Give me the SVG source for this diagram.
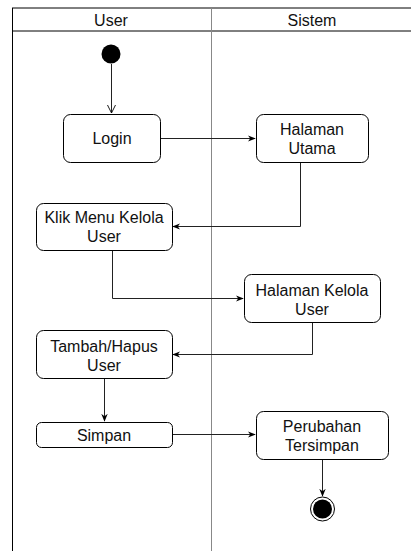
<svg xmlns="http://www.w3.org/2000/svg" width="411" height="551" viewBox="0 0 411 551">
  <style>
    .lane { fill: none; stroke: #000; stroke-width: 1; }
    .divider { stroke: #888; stroke-width: 1; }
    .act { fill: #fff; stroke: #000; stroke-width: 1; }
    .lbl { font-family: "Liberation Sans", Arial, sans-serif; font-size: 16px; fill: #111; text-anchor: middle; }
    .edge { fill: none; stroke: #222; stroke-width: 1; }
  </style>
  <defs>
    <marker id="filled" viewBox="0 0 10 10" refX="9" refY="5" markerWidth="8" markerHeight="8" markerUnits="userSpaceOnUse" orient="auto">
      <path d="M0,1 L10,5 L0,9 L3,5 Z" fill="#000"/>
    </marker>
    <marker id="open" viewBox="0 0 10 10" refX="9" refY="5" markerWidth="9" markerHeight="9" markerUnits="userSpaceOnUse" orient="auto">
      <path d="M0,0.5 L9,5 L0,9.5" fill="none" stroke="#000" stroke-width="1"/>
    </marker>
  </defs>
  <rect width="411" height="551" fill="#fff"/>

  <!-- swimlanes -->
  <g id="lanes">
    <line class="lane" x1="12" y1="8" x2="411" y2="8"/>
    <line class="lane" x1="12" y1="31" x2="411" y2="31" stroke="#666"/>
    <line class="lane" x1="12.5" y1="8" x2="12.5" y2="551"/>
    <line class="divider" x1="211.5" y1="8" x2="211.5" y2="551"/>
    <text class="lbl" x="111" y="26">User</text>
    <text class="lbl" x="312" y="26">Sistem</text>
  </g>

  <!-- connectors -->
  <g id="connectors">
    <path class="edge" d="M111.5,64 V113" marker-end="url(#open)"/>
    <path class="edge" d="M160,138.5 H255" marker-end="url(#filled)"/>
    <path class="edge" d="M300.5,162 V226.5 H173" marker-end="url(#filled)"/>
    <path class="edge" d="M112.5,250 V298.5 H243" marker-end="url(#filled)"/>
    <path class="edge" d="M312.5,322 V354.5 H173" marker-end="url(#filled)"/>
    <path class="edge" d="M104.5,378 V421" marker-end="url(#filled)"/>
    <path class="edge" d="M172,434.5 H255" marker-end="url(#filled)"/>
    <path class="edge" d="M322.5,459 V496" marker-end="url(#filled)"/>
  </g>

  <g id="start">
    <circle cx="111" cy="54" r="9.5" fill="#000"/>
  </g>

  <g id="login">
    <rect class="act" x="63.5" y="114.5" width="97" height="48" rx="7"/>
    <text class="lbl" x="112" y="144">Login</text>
  </g>

  <g id="halaman-utama">
    <rect class="act" x="256.5" y="114.5" width="112" height="48" rx="7"/>
    <text class="lbl" x="312" y="135">Halaman</text>
    <text class="lbl" x="312" y="154">Utama</text>
  </g>

  <g id="klik-menu">
    <rect class="act" x="36.5" y="203.5" width="136" height="47" rx="7"/>
    <text class="lbl" x="104" y="223">Klik Menu Kelola</text>
    <text class="lbl" x="104" y="242">User</text>
  </g>

  <g id="halaman-kelola">
    <rect class="act" x="244.5" y="274.5" width="136" height="48" rx="7"/>
    <text class="lbl" x="312" y="296">Halaman Kelola</text>
    <text class="lbl" x="312" y="315">User</text>
  </g>

  <g id="tambah-hapus">
    <rect class="act" x="36.5" y="330.5" width="136" height="48" rx="7"/>
    <text class="lbl" x="104" y="352">Tambah/Hapus</text>
    <text class="lbl" x="104" y="371">User</text>
  </g>

  <g id="simpan">
    <rect class="act" x="36.5" y="422.5" width="136" height="25" rx="5"/>
    <text class="lbl" x="104" y="441">Simpan</text>
  </g>

  <g id="perubahan">
    <rect class="act" x="256.5" y="411.5" width="132" height="48" rx="7"/>
    <text class="lbl" x="322" y="432">Perubahan</text>
    <text class="lbl" x="322" y="451">Tersimpan</text>
  </g>

  <g id="end">
    <circle cx="322.5" cy="509" r="12" fill="#fff" stroke="#000" stroke-width="1"/>
    <circle cx="322.5" cy="509" r="9.5" fill="#000"/>
  </g>
</svg>
